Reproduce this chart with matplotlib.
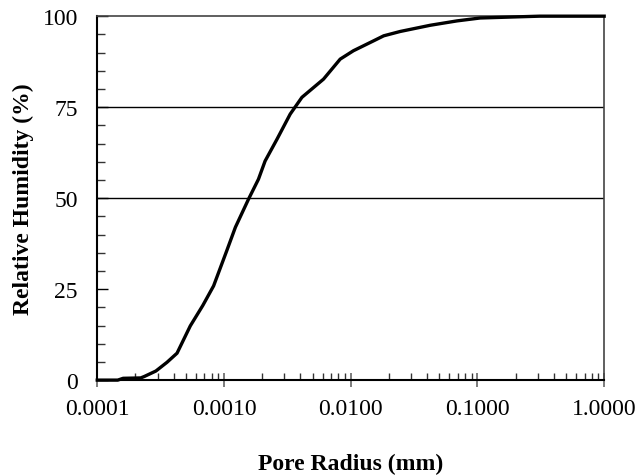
import matplotlib
matplotlib.use('Agg')
import matplotlib.pyplot as plt
from matplotlib.ticker import LogLocator, MultipleLocator, FixedLocator
import numpy as np

# pore radius (mm) vs relative humidity (%)
radius = [0.0001, 0.000145, 0.00016, 0.00022, 0.000235, 0.00029, 0.000355, 0.000426,
          0.000542, 0.00068, 0.000828, 0.00105, 0.00123, 0.00156, 0.00187, 0.00211, 0.00262,
          0.00333, 0.00412, 0.0061, 0.00826, 0.0105, 0.0151, 0.0182, 0.0246,
          0.0424, 0.0689, 0.105, 0.2, 0.31, 1.0]
rh = [0.0, 0.0, 0.5, 0.6, 1.0, 2.5, 4.9, 7.4,
      14.9, 20.5, 25.9, 35.5, 42.0, 49.7, 55.2, 60.2, 66.2,
      73.1, 77.7, 82.7, 88.2, 90.5, 93.2, 94.6, 95.8,
      97.5, 98.7, 99.5, 99.8, 100.0, 100.0]

xticks = [0.0001, 0.001, 0.01, 0.1, 1.0]
xticklabels = ['0.0001', '0.0010', '0.0100', '0.1000', '1.0000']
yticks = [0, 25, 50, 75, 100]
ref_lines = [50, 75]

plt.rcParams['font.family'] = ['Liberation Serif', 'DejaVu Serif']

fig = plt.figure(figsize=(6.4, 4.77), dpi=100)
ax = fig.add_axes([0.152, 0.201, 0.792, 0.763])

for r in ref_lines:
    ax.axhline(r, color='black', lw=1.0, zorder=1)

ax.plot(radius, rh, color='black', lw=2.4, zorder=3, clip_on=False)

ax.set_xscale('log')
ax.set_xlim(0.0001, 1.0)
ax.set_ylim(0, 100)

ax.xaxis.set_major_locator(FixedLocator(xticks))
ax.set_xticklabels(xticklabels)
ax.xaxis.set_minor_locator(LogLocator(base=10, subs=np.arange(2, 10)))
ax.xaxis.set_minor_formatter(plt.NullFormatter())
ax.set_yticks(yticks)
ax.yaxis.set_minor_locator(MultipleLocator(5))

ax.tick_params(axis='x', which='major', direction='inout', length=10, width=1.2,
               color='#666666', labelsize=17, pad=8)
ax.tick_params(axis='x', which='minor', direction='in', length=5, width=1.0, color='#333333')
ax.tick_params(axis='y', which='major', direction='in', length=8, width=1.0,
               labelsize=17, pad=14)
ax.tick_params(axis='y', which='minor', direction='in', length=6, width=1.0, color='#333333')

for s in ['left', 'bottom']:
    ax.spines[s].set_linewidth(1.5)
for s in ['top', 'right']:
    ax.spines[s].set_linewidth(1.2)
    ax.spines[s].set_color('#444444')

ax.set_xlabel('Pore Radius (mm)', fontsize=17, fontweight='bold', labelpad=24)
ax.set_ylabel('Relative Humidity (%)', fontsize=17, fontweight='bold', labelpad=6)

fig.savefig('out.png', dpi=100)
